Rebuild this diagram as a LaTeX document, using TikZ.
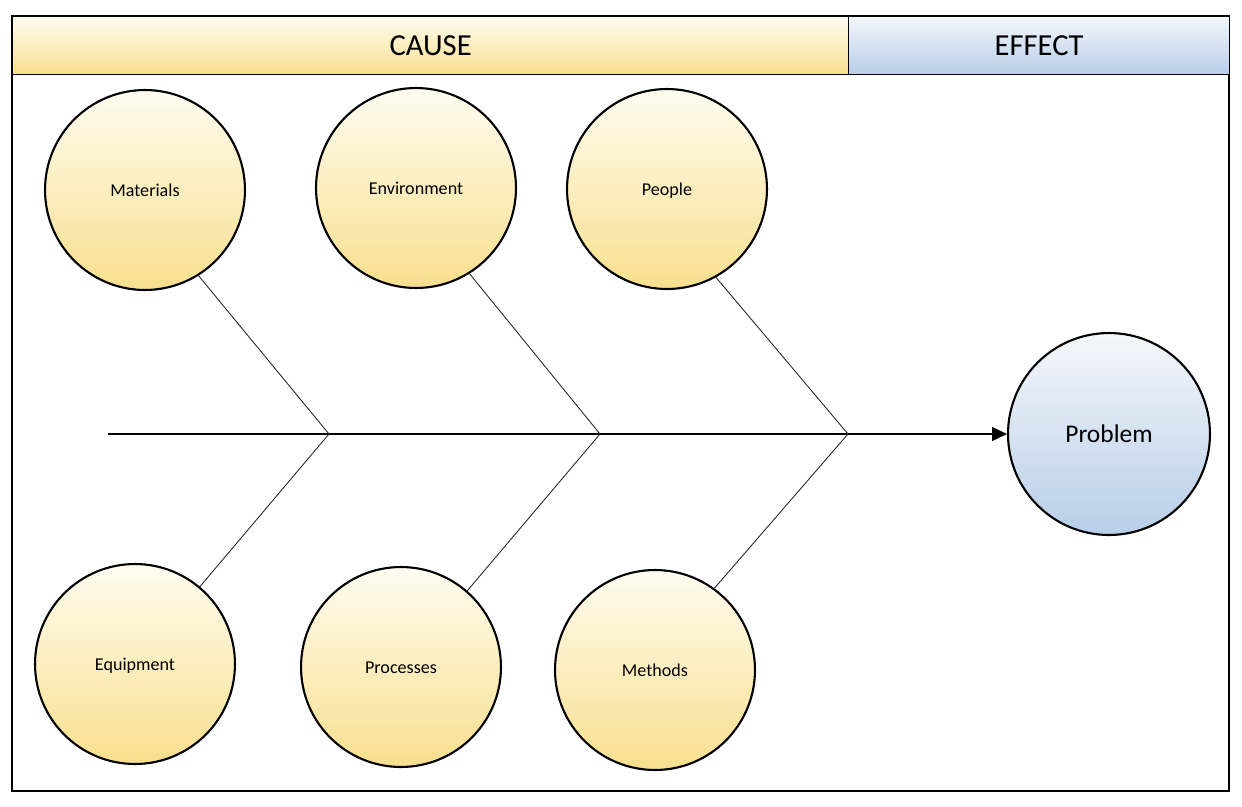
\documentclass[tikz,border=0pt]{standalone}
\usepackage{fontspec}
\setmainfont{Carlito}
\usepackage{tikz}
\usetikzlibrary{arrows.meta,positioning,calc}
\definecolor{causelight}{HTML}{FFFCF0}
\definecolor{causedark}{HTML}{F8DF8E}
\definecolor{effectlight}{HTML}{F4F7FB}
\definecolor{effectdark}{HTML}{B8CEE8}

\begin{document}
\begin{tikzpicture}[x=0.02cm,y=-0.02cm,
  cause/.style={circle,draw,line width=1.2pt,minimum size=4cm,inner sep=0pt,
    text height=0.95em,text depth=0.2em,
    top color=causelight,bottom color=causedark,font=\fontsize{10.3}{12}\selectfont},
  effect/.style={circle,draw,line width=1.2pt,minimum size=4.04cm,inner sep=0pt,
    top color=effectlight,bottom color=effectdark,font=\fontsize{14.5}{17}\selectfont},
  band/.style={draw,line width=0.8pt,inner sep=0pt,anchor=north west,
    minimum height=1.16cm,font=\fontsize{17.4}{20}\selectfont},
  bone/.style={line width=0.5pt,black!85},
  spine/.style={line width=0.6pt,-{Triangle[length=8.5pt,width=8pt]}}]
  \useasboundingbox (0,0) rectangle (1242,806);
  % cadre
  \draw[line width=0.8pt] (12,16) rectangle (1229,791);
  % bandeau
  \node[band,minimum width=16.72cm,top color=causelight,bottom color=causedark]
    (cause) at (12,16) {CAUSE};
  \node[band,minimum width=7.62cm,top color=effectlight,bottom color=effectdark]
    (effect) at (848,16) {EFFECT};
  % causes
  \foreach \n/\t/\x/\y in {mat/Materials/145/190, env/Environment/416/188,
      ppl/People/667/189, equ/Equipment/135/664, prc/Processes/401/667,
      mth/Methods/655/670}
     \node[cause] (\n) at (\x,\y) {\t};
  % effet
  \node[effect] (prob) at (1109,434) {Problem};
  % arête centrale
  \coordinate (tail) at (108,434);
  \coordinate (j1) at (329,434);
  \coordinate (j2) at (600,434);
  \coordinate (j3) at (848,434);
  \draw[spine] (tail) -- (prob);
  % arêtes
  \foreach \a/\j/\b in {mat.-58/j1/equ.50, env.-58/j2/prc.49, ppl.-61/j3/mth.54}
     \draw[bone] (\a) -- (\j) -- (\b);
\end{tikzpicture}
\end{document}
